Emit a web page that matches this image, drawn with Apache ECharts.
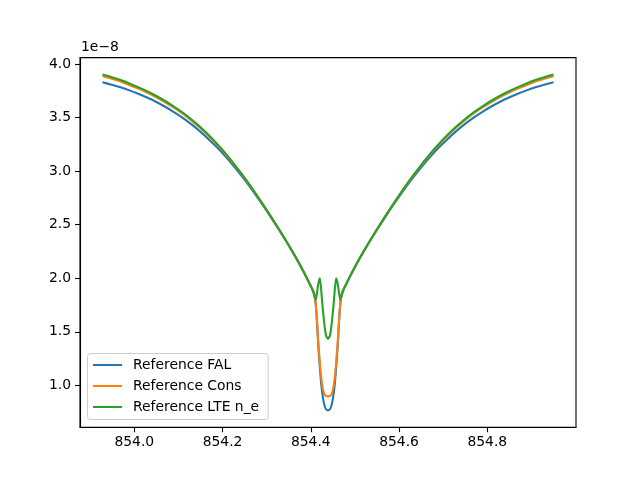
<!DOCTYPE html>
<html>
<head>
<meta charset="utf-8">
<script src="https://cdn.jsdelivr.net/npm/echarts@6/dist/echarts.min.js"></script>
<style>html,body{margin:0;padding:0;background:#fff}#c{width:640px;height:480px}</style>
</head>
<body>
<div id="c"></div>
<script>
// Wavelength (nm)
const wavelength = [
  853.928, 853.949, 853.969, 853.989, 854.009, 854.029, 854.049, 854.069, 854.089, 854.109,
  854.129, 854.149, 854.169, 854.189, 854.209, 854.229, 854.249, 854.269, 854.289, 854.309,
  854.329, 854.349, 854.369, 854.384, 854.394, 854.404, 854.408, 854.411, 854.414, 854.417,
  854.4205, 854.423, 854.426, 854.429, 854.432, 854.435, 854.439,
  854.443, 854.446, 854.449, 854.452, 854.455, 854.4575, 854.461, 854.464, 854.467, 854.470,
  854.474, 854.484, 854.494, 854.509, 854.529, 854.549, 854.569, 854.589, 854.609, 854.629,
  854.649, 854.669, 854.689, 854.709, 854.729, 854.749, 854.769, 854.789, 854.809, 854.829,
  854.849, 854.869, 854.889, 854.909, 854.929, 854.950
];
// Intensities in units of 1e-8
const fal = [
  3.830, 3.807, 3.783, 3.755, 3.723, 3.688, 3.649, 3.604, 3.555, 3.501,
  3.440, 3.372, 3.297, 3.216, 3.127, 3.030, 2.926, 2.814, 2.697, 2.574,
  2.447, 2.314, 2.172, 2.058, 1.977, 1.893, 1.850, 1.770, 1.600, 1.370,
  1.170, 1.040, 0.930, 0.850, 0.800, 0.775, 0.766,
  0.775, 0.800, 0.850, 0.930, 1.040, 1.170, 1.370, 1.600, 1.770, 1.850,
  1.893, 1.977, 2.058, 2.172, 2.314, 2.447, 2.574, 2.697, 2.814, 2.926,
  3.030, 3.127, 3.216, 3.297, 3.372, 3.440, 3.501, 3.555, 3.604, 3.649,
  3.688, 3.723, 3.755, 3.783, 3.807, 3.830
];
const cons = [
  3.889, 3.863, 3.837, 3.806, 3.772, 3.734, 3.693, 3.646, 3.595, 3.539,
  3.475, 3.405, 3.327, 3.242, 3.149, 3.048, 2.940, 2.825, 2.705, 2.580,
  2.451, 2.316, 2.173, 2.058, 1.977, 1.893, 1.850, 1.770, 1.600, 1.400,
  1.210, 1.100, 1.000, 0.940, 0.910, 0.900, 0.897,
  0.900, 0.910, 0.940, 1.000, 1.100, 1.210, 1.400, 1.600, 1.770, 1.850,
  1.893, 1.977, 2.058, 2.173, 2.316, 2.451, 2.580, 2.705, 2.825, 2.940,
  3.048, 3.149, 3.242, 3.327, 3.405, 3.475, 3.539, 3.595, 3.646, 3.693,
  3.734, 3.772, 3.806, 3.837, 3.863, 3.889
];
const lte = [
  3.904, 3.878, 3.851, 3.820, 3.785, 3.747, 3.705, 3.658, 3.606, 3.549,
  3.485, 3.414, 3.335, 3.249, 3.155, 3.053, 2.944, 2.828, 2.707, 2.581,
  2.451, 2.316, 2.173, 2.058, 1.977, 1.893, 1.840, 1.800, 1.860, 1.950,
  2.000, 1.920, 1.770, 1.640, 1.530, 1.460, 1.436,
  1.460, 1.530, 1.640, 1.770, 1.920, 2.000, 1.950, 1.860, 1.800, 1.840,
  1.893, 1.977, 2.058, 2.173, 2.316, 2.451, 2.581, 2.707, 2.828, 2.944,
  3.053, 3.155, 3.249, 3.335, 3.414, 3.485, 3.549, 3.606, 3.658, 3.705,
  3.747, 3.785, 3.820, 3.851, 3.878, 3.904
];
const seriesNames = ['Reference FAL', 'Reference Cons', 'Reference LTE n_e'];
const xTicks = [854.0, 854.2, 854.4, 854.6, 854.8];
const yTicks = [1.0, 1.5, 2.0, 2.5, 3.0, 3.5, 4.0];

const colors = ['#1f77b4', '#ff7f0e', '#2ca02c'];
const FONT = 'DejaVu Sans';
const pairs = arr => wavelength.map((w, i) => [w, arr[i]]);

const chart = echarts.init(document.getElementById('c'), null, {renderer: 'canvas'});
chart.setOption({
  animation: false,
  backgroundColor: '#fff',
  color: colors,
  grid: {left: 80, top: 57.6, width: 496, height: 369.6, show: true, borderColor: '#000', borderWidth: 1.1, backgroundColor: 'transparent'},
  xAxis: {
    type: 'value', min: 853.877, max: 855.001,
    axisLine: {show: true, lineStyle: {color: '#000', width: 1.1}},
    axisTick: {show: true, length: 5, lineStyle: {color: '#000', width: 1.1}, customValues: xTicks},
    axisLabel: {show: true, margin: 8, color: '#000', fontFamily: FONT, fontSize: 13.9, customValues: xTicks, formatter: v => Number(v).toFixed(1)},
    splitLine: {show: false}
  },
  yAxis: {
    type: 'value', min: 0.609, max: 4.061,
    axisLine: {show: true, lineStyle: {color: '#000', width: 1.1}},
    axisTick: {show: true, length: 5, lineStyle: {color: '#000', width: 1.1}, customValues: yTicks},
    axisLabel: {show: true, margin: 9, color: '#000', fontFamily: FONT, fontSize: 13.9, customValues: yTicks, formatter: v => Number(v).toFixed(1)},
    splitLine: {show: false}
  },
  legend: {
    orient: 'vertical', left: 87.5, top: 353.5,
    data: seriesNames,
    itemWidth: 29, itemHeight: 14, itemGap: 7,
    padding: [4.5, 9, 5.5, 4.5],
    borderColor: '#cccccc', borderWidth: 1, borderRadius: 3,
    backgroundColor: 'rgba(255,255,255,0.8)',
    itemStyle: {opacity: 0},
    textStyle: {color: '#000', fontFamily: FONT, fontSize: 13.9, padding: [0, 0, 0, 6]}
  },
  graphic: [{
    type: 'text', left: 81, top: 40,
    style: {text: '1e\u22128', fill: '#000', font: '13.9px "DejaVu Sans"'}
  }],
  series: [
    {name: seriesNames[0], type: 'line', data: pairs(fal), symbol: 'none', smooth: 0.2, itemStyle: {opacity: 0}, lineStyle: {width: 2.1, color: colors[0]}},
    {name: seriesNames[1], type: 'line', data: pairs(cons), symbol: 'none', smooth: 0.2, itemStyle: {opacity: 0}, lineStyle: {width: 2.1, color: colors[1]}},
    {name: seriesNames[2], type: 'line', data: pairs(lte), symbol: 'none', smooth: 0.2, itemStyle: {opacity: 0}, lineStyle: {width: 2.1, color: colors[2]}}
  ]
});
</script>
</body>
</html>
